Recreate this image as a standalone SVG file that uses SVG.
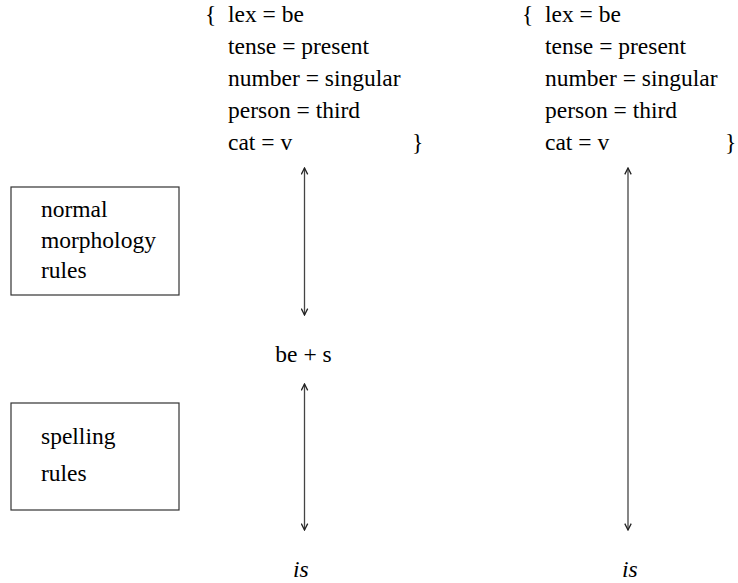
<svg xmlns="http://www.w3.org/2000/svg" width="738" height="583" viewBox="0 0 738 583">
<style>
text{font-family:"Liberation Serif","Times New Roman",serif;font-size:23.5px;fill:#000}
.it{font-style:italic}
.box{fill:none;stroke:#333;stroke-width:1.2}
.conn line{stroke:#444;stroke-width:1.3;marker-start:url(#a);marker-end:url(#a)}
</style>
<defs>
<marker id="a" viewBox="0 0 10 10" refX="9" refY="5" markerWidth="8" markerHeight="8" markerUnits="userSpaceOnUse" orient="auto-start-reverse">
<path d="M1,1 L9,5 L1,9" fill="none" stroke="#222" stroke-width="1.6"/>
</marker>
</defs>
<g id="fs1">
<text x="205" y="22">{</text>
<text x="228" y="22">lex = be</text>
<text x="228" y="54">tense = present</text>
<text x="228" y="86">number = singular</text>
<text x="228" y="118">person = third</text>
<text x="228" y="150">cat = v</text>
<text x="412" y="150">}</text>
</g>
<g id="fs2">
<text x="522" y="22">{</text>
<text x="545" y="22">lex = be</text>
<text x="545" y="54">tense = present</text>
<text x="545" y="86">number = singular</text>
<text x="545" y="118">person = third</text>
<text x="545" y="150">cat = v</text>
<text x="725" y="150">}</text>
</g>
<g id="morph">
<rect class="box" x="11" y="187" width="168" height="108"/>
<text x="41" y="217">normal</text>
<text x="41" y="248">morphology</text>
<text x="41" y="278">rules</text>
</g>
<g id="spell">
<rect class="box" x="11" y="403" width="168" height="107"/>
<text x="41" y="444">spelling</text>
<text x="41" y="481">rules</text>
</g>
<g id="bes">
<text x="303.5" y="362" text-anchor="middle">be + s</text>
</g>
<g id="is1">
<text class="it" x="293" y="577">is</text>
</g>
<g id="is2">
<text class="it" x="622" y="577">is</text>
</g>
<g class="conn">
<line x1="304.5" y1="168" x2="304.5" y2="315"/>
<line x1="304.5" y1="384" x2="304.5" y2="530"/>
<line x1="628" y1="168" x2="628" y2="530"/>
</g>
</svg>
